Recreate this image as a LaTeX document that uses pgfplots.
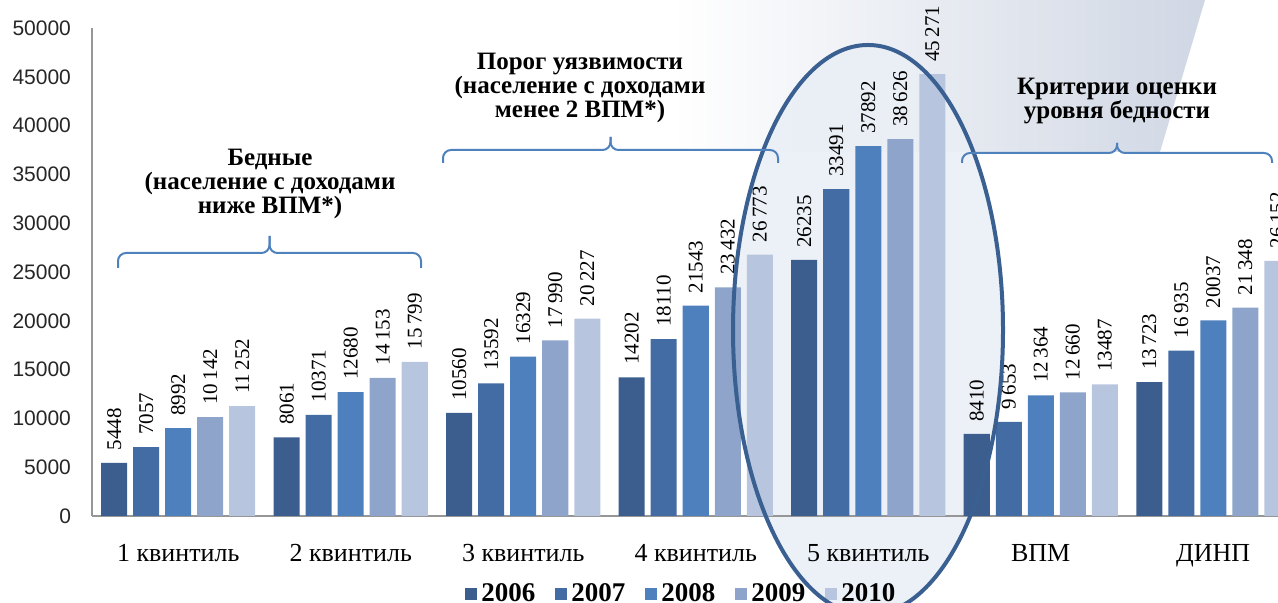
\documentclass[border=0pt]{standalone}
\usepackage{fontspec}
\setmainfont{Liberation Serif}
\newfontfamily\sansfont{Liberation Sans}
\usepackage{pgfplots}
\pgfplotsset{compat=1.18}

\definecolor{yA}{RGB}{60,94,142}
\definecolor{yB}{RGB}{68,108,164}
\definecolor{yC}{RGB}{78,128,189}
\definecolor{yD}{RGB}{142,164,203}
\definecolor{yE}{RGB}{184,197,223}
\definecolor{ringline}{RGB}{58,95,145}
\definecolor{ringfill}{RGB}{234,239,246}
\definecolor{bracecol}{RGB}{79,129,189}
\definecolor{wedgeR}{RGB}{208,215,228}
\definecolor{axisgray}{RGB}{150,150,150}

% curly group brace: ends at y0, bar at y1, tip at y2
\newcommand\groupbrace[5]{%
  \draw[bracecol, line width=1pt, rounded corners=4pt]
    (#1,#3) -- (#1,#4) -- ({(#1+#2)/2},#4) -- ({(#1+#2)/2},#5);
  \draw[bracecol, line width=1pt, rounded corners=4pt]
    (#2,#3) -- (#2,#4) -- ({(#1+#2)/2},#4) -- ({(#1+#2)/2},#5);
}

\begin{document}
\begin{tikzpicture}
\useasboundingbox (-46pt,-43.5pt) rectangle (593pt,258pt);
\clip (-46pt,-43.5pt) rectangle (593pt,258pt);

% decorative wedge in the upper right corner
\shade[left color=white, right color=wedgeR]
  (290pt,258pt) -- (556.5pt,258pt) -- (534pt,182pt) -- (290pt,182pt) -- cycle;
% tinted interior of the highlight around the fifth quintile
\fill[ringfill, opacity=0.9] (388pt,93pt) ellipse [x radius=67.5pt, y radius=142.5pt];

\begin{axis}[
  at={(0pt,0pt)}, anchor=south west,
  scale only axis, width=603.75pt, height=244pt,
  xmin=-0.5, xmax=6.5, ymin=0, ymax=50000,
  enlargelimits=false, clip=false,
  ybar=3pt, bar width=13pt,
  axis lines*=left,
  axis line style={draw=axisgray, line width=0.6pt, -},
  xtick={0,1,2,3,4,5,6},
  xticklabels={1 квинтиль, 2 квинтиль, 3 квинтиль, 4 квинтиль, 5 квинтиль, ВПМ, ДИНП},
  xtick style={draw=none},
  xticklabel style={font=\fontsize{13}{14}\selectfont, yshift=-6.5pt},
  ytick={0,5000,...,50000},
  ytick style={draw=none},
  scaled y ticks=false,
  yticklabel style={font=\sansfont\fontsize{10.5}{12}\selectfont, text=black!85, xshift=-7pt,
    /pgf/number format/.cd, 1000 sep={}, assume math mode=true},
  point meta=explicit symbolic,
  nodes near coords,
  every node near coord/.append style={rotate=90, anchor=west, inner sep=0pt, inner xsep=6pt,
    font=\fontsize{10.5}{12}\selectfont, text=black},
  legend style={at={(0.489,-0.16)}, anchor=center, draw=none, fill=none,
    legend columns=-1, font=\bfseries\fontsize{13.5}{14}\selectfont,
    /tikz/every even column/.append style={column sep=8pt}},
  legend image code/.code={\fill[#1] (0pt,-3pt) rectangle (6pt,3pt);},
]
\addplot[fill=yA, draw=none] coordinates {
  (0,5448) [5448] (1,8061) [8061] (2,10560) [10560] (3,14202) [14202]
  (4,26235) [26235] (5,8410) [8410] (6,13723) [13\,723]};
\addplot[fill=yB, draw=none] coordinates {
  (0,7057) [7057] (1,10371) [10371] (2,13592) [13592] (3,18110) [18110]
  (4,33491) [33491] (5,9653) [9\,653] (6,16935) [16\,935]};
\addplot[fill=yC, draw=none] coordinates {
  (0,8992) [8992] (1,12680) [12680] (2,16329) [16329] (3,21543) [21543]
  (4,37892) [37892] (5,12364) [12\,364] (6,20037) [20037]};
\addplot[fill=yD, draw=none] coordinates {
  (0,10142) [10\,142] (1,14153) [14\,153] (2,17990) [17\,990] (3,23432) [23\,432]
  (4,38626) [38\,626] (5,12660) [12\,660] (6,21348) [21\,348]};
\addplot[fill=yE, draw=none] coordinates {
  (0,11252) [11\,252] (1,15799) [15\,799] (2,20227) [20\,227] (3,26773) [26\,773]
  (4,45271) [45\,271] (5,13487) [13487] (6,26152) [26\,152]};
\legend{2006,2007,2008,2009,2010}
\end{axis}

% outline of the highlight
\draw[ringline, line width=2pt] (388pt,93pt) ellipse [x radius=67.5pt, y radius=142.5pt];

% group braces
\groupbrace{13pt}{164.5pt}{124pt}{131.5pt}{140pt}
\groupbrace{175.5pt}{343pt}{176.5pt}{183pt}{189.5pt}
\groupbrace{435pt}{590pt}{176.5pt}{181.5pt}{186.5pt}

% group captions
\node[align=center, font=\bfseries\fontsize{12.5}{12.2}\selectfont] at (89pt,166pt)
  {Бедные\\(население с доходами\\ниже ВПМ*)};
\node[align=center, font=\bfseries\fontsize{12.5}{12.2}\selectfont] at (244pt,214pt)
  {Порог уязвимости\\(население с доходами\\менее 2 ВПМ*)};
\node[align=center, font=\bfseries\fontsize{12.5}{12.2}\selectfont] at (512.5pt,207.5pt)
  {Критерии оценки\\уровня бедности};
\end{tikzpicture}
\end{document}
